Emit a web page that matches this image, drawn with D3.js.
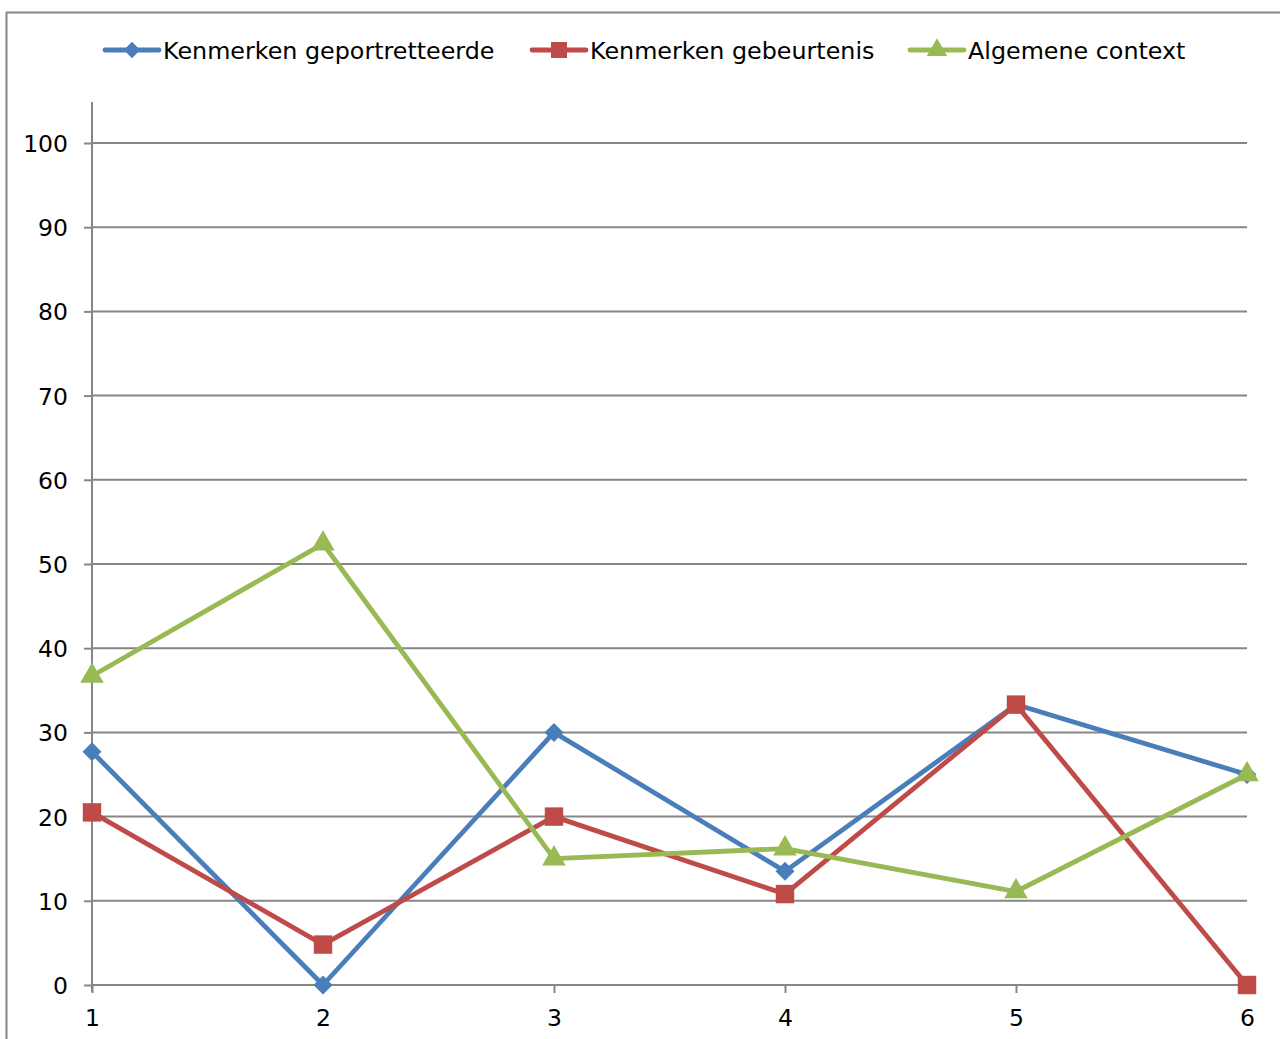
<!DOCTYPE html>
<html><head><meta charset="utf-8">
<script src="https://cdn.jsdelivr.net/npm/d3@7"></script>
<style>
html,body{margin:0;padding:0;background:#fff;}
svg{display:block;font-family:"DejaVu Sans",Verdana,sans-serif;}
</style></head>
<body>
<svg id="c" width="1280" height="1039"></svg>
<script>
const categories = [1, 2, 3, 4, 5, 6];
const seriesNames = ["Kenmerken geportretteerde", "Kenmerken gebeurtenis", "Algemene context"];
const geportretteerde = [27.7, 0, 30, 13.5, 33.3, 25];
const gebeurtenis = [20.5, 4.8, 20, 10.8, 33.3, 0];
const context = [36.7, 52.4, 15, 16.2, 11.1, 25];
const yTicks = [0, 10, 20, 30, 40, 50, 60, 70, 80, 90, 100];

const colors = ["#4A7EBB", "#BE4B48", "#98B954"];
const markers = [d3.symbolSquare, d3.symbolSquare, d3.symbolTriangle];
const markerRot = [45, 0, 0];
const markerSizes = [180, 340, 240];
const series = [geportretteerde, gebeurtenis, context].map((v, i) => ({name: seriesNames[i], values: v, color: colors[i], marker: markers[i], size: markerSizes[i], rot: markerRot[i]}));

const svg = d3.select("#c");
const gridColor = "#868686";
const font = '"DejaVu Sans",Verdana,sans-serif';

// outer border
svg.append("rect").attr("x", 6.5).attr("y", 12.5).attr("width", 1300).attr("height", 1100)
  .attr("fill", "none").attr("stroke", gridColor).attr("stroke-width", 2);

const x = d3.scaleLinear().domain([1, 6]).range([92, 1247]);
const y = d3.scaleLinear().domain([0, 100]).range([985, 143]);

// gridlines
svg.append("g").selectAll("line").data(yTicks.filter(d => d > 0)).join("line")
  .attr("x1", 92).attr("x2", 1247).attr("y1", d => y(d)).attr("y2", d => y(d))
  .attr("stroke", gridColor).attr("stroke-width", 2);

// y axis
const yAxis = svg.append("g").attr("transform", "translate(92,0)")
  .call(d3.axisLeft(y).tickValues(yTicks).tickSize(8).tickPadding(16));
yAxis.select(".domain").remove();
yAxis.selectAll(".tick line").attr("stroke", gridColor).attr("stroke-width", 2);
yAxis.selectAll("text").attr("font-size", 23.5).attr("fill", "#000")
  .attr("font-family", font).attr("dy", "0.36em");
svg.append("line").attr("x1", 92).attr("x2", 92).attr("y1", 102).attr("y2", 992)
  .attr("stroke", gridColor).attr("stroke-width", 2);

// x axis
const xAxis = svg.append("g").attr("transform", "translate(0,985)")
  .call(d3.axisBottom(x).tickValues(categories).tickSize(8).tickPadding(16).tickFormat(d3.format("d")));
xAxis.select(".domain").attr("stroke", gridColor).attr("stroke-width", 2).attr("d", "M92,0H1247");
xAxis.selectAll(".tick line").attr("stroke", gridColor).attr("stroke-width", 2);
xAxis.selectAll("text").attr("font-size", 23.5).attr("fill", "#000").attr("font-family", font);

// lines
const line = d3.line().x((d, i) => x(categories[i])).y(d => y(d));
series.forEach(s => {
  svg.append("path").datum(s.values).attr("d", line).attr("fill", "none")
    .attr("stroke", s.color).attr("stroke-width", 4.8).attr("stroke-linejoin", "round");
});
series.forEach(s => {
  svg.append("g").selectAll("path").data(s.values).join("path")
    .attr("d", d3.symbol().type(s.marker).size(s.size))
    .attr("transform", (d, i) => `translate(${x(categories[i])},${y(d)}) rotate(${s.rot})`)
    .attr("fill", s.color);
});

// legend
const legendX = [105, 532, 910];
const leg = svg.append("g");
series.forEach((s, i) => {
  const g = leg.append("g").attr("transform", `translate(${legendX[i]},50)`);
  g.append("line").attr("x1", 0).attr("x2", 54).attr("stroke", s.color).attr("stroke-width", 4.8).attr("stroke-linecap", "round");
  g.append("path").attr("d", d3.symbol().type(s.marker).size(s.size * 0.75))
    .attr("transform", `translate(27,0) rotate(${s.rot})`).attr("fill", s.color);
  g.append("text").attr("x", 58).attr("y", 0).attr("dy", "0.36em").attr("font-size", 23.8).attr("fill", "#000").text(s.name);
});
</script>
</body></html>
